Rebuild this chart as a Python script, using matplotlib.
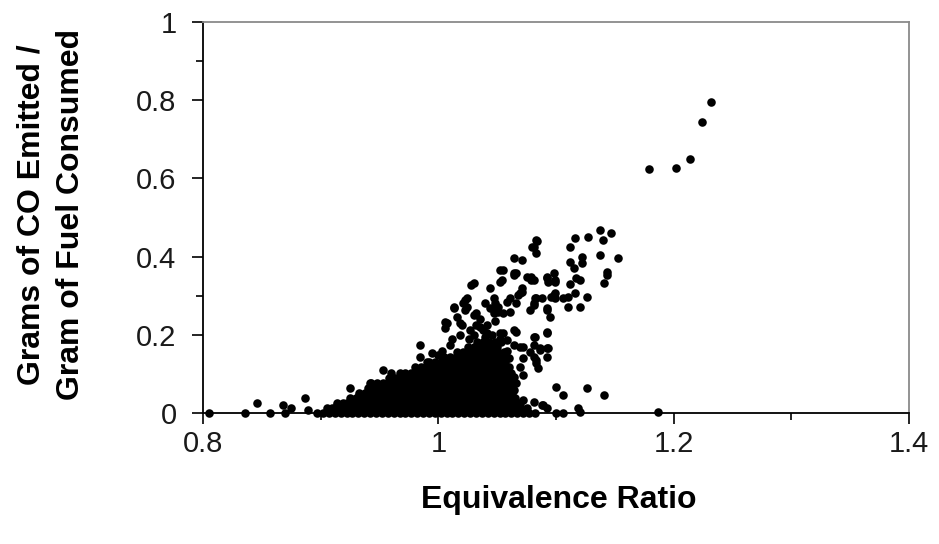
import matplotlib
matplotlib.use("Agg")
import matplotlib.pyplot as plt
from matplotlib.ticker import FixedLocator

plt.rcParams['font.family'] = ['Liberation Sans', 'DejaVu Sans']

# Sparse lean-side measurements
lean_phi = [0.805, 0.836, 0.846, 0.857, 0.868, 0.870, 0.875, 0.887, 0.889,
            0.925, 0.933, 0.942, 0.943, 0.953, 0.960, 0.914, 0.922]
lean_co = [0.000, 0.000, 0.026, 0.000, 0.021, 0.000, 0.013, 0.038, 0.008,
           0.064, 0.047, 0.077, 0.077, 0.111, 0.102, 0.021, 0.026]

# Densely packed near-stoichiometric measurements, one list per CO level
core_co = [0.000, 0.013, 0.026, 0.039, 0.052, 0.065, 0.078, 0.091,
           0.104, 0.117, 0.130, 0.143, 0.156, 0.169, 0.182]
core_phi_a = [0.897, 0.902, 0.907, 0.912, 0.917, 0.922, 0.927, 0.932, 0.937, 0.942,
              0.947, 0.952, 0.957, 0.962, 0.967, 0.972, 0.977, 0.982, 0.987, 0.992,
              0.997, 1.002, 1.007, 1.012, 1.017, 1.022, 1.027, 1.032, 1.037, 1.042,
              1.047, 1.052, 1.057, 1.062, 1.067, 1.072, 1.077, 1.082]
core_phi_b = [0.905, 0.910, 0.915, 0.920, 0.925, 0.930, 0.935, 0.940, 0.945, 0.950,
              0.955, 0.960, 0.965, 0.970, 0.975, 0.980, 0.985, 0.990, 0.995, 1.000,
              1.005, 1.010, 1.015, 1.020, 1.025, 1.030, 1.035, 1.040, 1.045, 1.050,
              1.055, 1.060, 1.065, 1.070, 1.075]
core_phi_c = [0.914, 0.919, 0.924, 0.929, 0.934, 0.939, 0.944, 0.949, 0.954, 0.959,
              0.964, 0.969, 0.974, 0.979, 0.984, 0.989, 0.994, 0.999, 1.004, 1.009,
              1.014, 1.019, 1.024, 1.029, 1.034, 1.039, 1.044, 1.049, 1.054, 1.059,
              1.064, 1.069]
core_phi_d = [0.925, 0.930, 0.935, 0.940, 0.945, 0.950, 0.955, 0.960, 0.965, 0.970,
              0.975, 0.980, 0.985, 0.990, 0.995, 1.000, 1.005, 1.010, 1.015, 1.020,
              1.025, 1.030, 1.035, 1.040, 1.045, 1.050, 1.055, 1.060, 1.065]
core_phi_e = [0.933, 0.938, 0.943, 0.948, 0.953, 0.958, 0.963, 0.968, 0.973, 0.978,
              0.983, 0.988, 0.993, 0.998, 1.003, 1.008, 1.013, 1.018, 1.023, 1.028,
              1.033, 1.038, 1.043, 1.048, 1.053, 1.058, 1.063]
core_phi_f = [0.940, 0.945, 0.950, 0.955, 0.960, 0.965, 0.970, 0.975, 0.980, 0.985,
              0.990, 0.995, 1.000, 1.005, 1.010, 1.015, 1.020, 1.025, 1.030, 1.035,
              1.040, 1.045, 1.050, 1.055, 1.060]
core_phi_g = [0.948, 0.953, 0.958, 0.963, 0.968, 0.973, 0.978, 0.983, 0.988, 0.993,
              0.998, 1.003, 1.008, 1.013, 1.018, 1.023, 1.028, 1.033, 1.038, 1.043,
              1.048, 1.053, 1.058, 1.063]
core_phi_h = [0.958, 0.963, 0.968, 0.973, 0.978, 0.983, 0.988, 0.993, 0.998, 1.003,
              1.008, 1.013, 1.018, 1.023, 1.028, 1.033, 1.038, 1.043, 1.048, 1.053,
              1.058]
core_phi_i = [0.967, 0.972, 0.977, 0.982, 0.987, 0.992, 0.997, 1.002, 1.007, 1.012,
              1.017, 1.022, 1.027, 1.032, 1.037, 1.042, 1.047, 1.052, 1.057, 1.062]
core_phi_j = [0.980, 0.985, 0.990, 0.995, 1.000, 1.005, 1.010, 1.015, 1.020, 1.025,
              1.030, 1.035, 1.040, 1.045, 1.050, 1.055, 1.060]
core_phi_k = [0.992, 0.997, 1.002, 1.007, 1.012, 1.017, 1.022, 1.027, 1.032, 1.037,
              1.042, 1.047, 1.052, 1.057]
core_phi_l = [1.005, 1.010, 1.015, 1.020, 1.025, 1.030, 1.035, 1.040, 1.045, 1.050,
              1.055]
core_phi_m = [1.016, 1.021, 1.026, 1.031, 1.036, 1.041, 1.046, 1.051, 1.056]
core_phi_n = [1.025, 1.030, 1.035, 1.040, 1.045, 1.050]
core_phi_o = [1.033, 1.038, 1.043, 1.048, 1.053]

# Scattered rich-side measurements
spread_phi = [0.984, 0.984, 0.990, 1.000, 1.006, 1.007, 1.006, 1.020, 1.018, 1.027,
              1.032, 1.035, 1.041, 1.041, 1.038, 1.040, 1.041,
              1.013, 1.024, 1.032, 1.013, 1.023, 1.023, 1.030, 1.021, 1.024,
              1.028, 1.030, 1.044, 1.040, 1.044, 1.047, 1.047, 1.047, 1.048, 1.051,
              1.051, 1.055, 1.061,
              1.052, 1.052, 1.054, 1.055, 1.064, 1.066, 1.064, 1.064, 1.071, 1.075,
              1.079, 1.079, 1.081,
              1.083, 1.084, 1.081, 1.080, 1.083,
              1.058, 1.061, 1.068, 1.069, 1.071, 1.071, 1.066,
              1.078, 1.081, 1.081, 1.083, 1.082, 1.088, 1.092, 1.092, 1.095,
              1.092, 1.092, 1.093, 1.098, 1.099, 1.099, 1.096, 1.098, 1.099, 1.099,
              1.106, 1.110, 1.116, 1.110, 1.120, 1.126,
              1.112, 1.120, 1.117, 1.115, 1.112, 1.122, 1.122, 1.112, 1.116, 1.127,
              1.137, 1.147, 1.140, 1.137, 1.153, 1.143, 1.143, 1.141,
              1.052, 1.055, 1.058, 1.064, 1.066, 1.064, 1.069, 1.072, 1.078, 1.081,
              1.081, 1.082, 1.092, 1.092, 1.086, 1.086, 1.092, 1.093, 1.092, 1.083,
              1.081, 1.083, 1.085, 1.072, 1.069, 1.072, 1.064, 1.066, 1.064,
              1.100, 1.106, 1.126, 1.141, 1.072, 1.081, 1.088, 1.089, 1.092, 1.100,
              1.106, 1.119, 1.120, 1.187,
              1.003, 1.010, 1.012, 1.018, 1.026, 1.030, 1.046, 1.052, 1.058, 1.060,
              0.995, 1.016, 1.035, 1.048]
spread_co = [0.174, 0.145, 0.132, 0.149, 0.217, 0.230, 0.234, 0.225, 0.230, 0.213,
             0.225, 0.221, 0.225, 0.204, 0.213, 0.196, 0.183,
             0.272, 0.272, 0.255, 0.268, 0.264, 0.289, 0.251, 0.281, 0.294,
             0.328, 0.332, 0.319, 0.281, 0.268, 0.255, 0.264, 0.294, 0.281, 0.259,
             0.272, 0.255, 0.259,
             0.366, 0.336, 0.340, 0.366, 0.358, 0.358, 0.353, 0.396, 0.391, 0.349,
             0.340, 0.349, 0.340,
             0.443, 0.441, 0.425, 0.425, 0.409,
             0.285, 0.294, 0.302, 0.306, 0.311, 0.319, 0.281,
             0.264, 0.277, 0.281, 0.294, 0.294, 0.294, 0.264, 0.268, 0.247,
             0.345, 0.349, 0.336, 0.358, 0.336, 0.340, 0.298, 0.302, 0.306, 0.294,
             0.294, 0.298, 0.306, 0.272, 0.272, 0.298,
             0.330, 0.340, 0.345, 0.370, 0.387, 0.383, 0.400, 0.425, 0.447, 0.451,
             0.468, 0.460, 0.443, 0.404, 0.396, 0.362, 0.353, 0.334,
             0.204, 0.204, 0.187, 0.213, 0.208, 0.174, 0.170, 0.170, 0.157, 0.174,
             0.196, 0.196, 0.204, 0.208, 0.162, 0.166, 0.166, 0.166, 0.145, 0.136,
             0.145, 0.128, 0.115, 0.140, 0.119, 0.098, 0.093, 0.077, 0.060,
             0.068, 0.047, 0.064, 0.047, 0.034, 0.030, 0.021, 0.021, 0.013, 0.000,
             0.000, 0.013, 0.004, 0.004,
             0.160, 0.175, 0.190, 0.200, 0.190, 0.200, 0.200, 0.190, 0.160, 0.140,
             0.155, 0.245, 0.240, 0.235]

# Very rich operating points
tail_phi = [1.179, 1.202, 1.214, 1.224, 1.232]
tail_co = [0.623, 0.627, 0.649, 0.743, 0.795]

x_ticks = [0.8, 1.0, 1.2, 1.4]
x_tick_labels = ['0.8', '1', '1.2', '1.4']
y_ticks = [0.0, 0.2, 0.4, 0.6, 0.8, 1.0]
y_tick_labels = ['0', '0.2', '0.4', '0.6', '0.8', '1']

core_rows = [core_phi_a, core_phi_b, core_phi_c, core_phi_d, core_phi_e,
             core_phi_f, core_phi_g, core_phi_h, core_phi_i, core_phi_j,
             core_phi_k, core_phi_l, core_phi_m, core_phi_n, core_phi_o]

phi_all = list(lean_phi) + list(spread_phi) + list(tail_phi)
co_all = list(lean_co) + list(spread_co) + list(tail_co)
for level, row in zip(core_co, core_rows):
    phi_all += row
    co_all += [level] * len(row)

W, H = 939, 544
fig = plt.figure(figsize=(W / 100, H / 100), dpi=100)
fig.patch.set_facecolor('white')
x0, x1, ytop, ybot = 203, 909, 21.7, 413.3
ax = fig.add_axes([x0 / W, 1 - ybot / H, (x1 - x0) / W, (ybot - ytop) / H])

ax.scatter(phi_all, co_all, s=38, c='black', marker='o', linewidths=0,
           clip_on=False, zorder=3)

ax.set_xlim(0.8, 1.4)
ax.set_ylim(0, 1)

for side in ('left', 'bottom'):
    ax.spines[side].set_color('black')
    ax.spines[side].set_linewidth(1.3)
for side in ('top', 'right'):
    ax.spines[side].set_color('#8a8a8a')
    ax.spines[side].set_linewidth(1.3)

ax.set_xticks(x_ticks)
ax.set_xticklabels(x_tick_labels)
ax.xaxis.set_minor_locator(FixedLocator([0.9, 1.1, 1.3]))
ax.set_yticks(y_ticks)
ax.set_yticklabels(y_tick_labels)
ax.yaxis.set_minor_locator(FixedLocator([0.3, 0.9]))

ax.tick_params(axis='both', which='major', direction='out', length=8,
               width=1.2, color='black', labelsize=21, labelcolor='#1a1a1a')
ax.tick_params(axis='both', which='minor', direction='out', length=5,
               width=1.2, color='black')
ax.tick_params(axis='y', which='major', pad=11)
ax.tick_params(axis='x', which='major', pad=4)

fig.text(559 / W, 1 - 500 / H, 'Equivalence Ratio', ha='center', va='center',
         fontsize=23, fontweight='bold', color='black')
fig.text(51 / W, 1 - 215 / H, 'Grams of CO Emitted /\nGram of Fuel Consumed',
         ha='center', va='center', rotation=90, fontsize=23,
         fontweight='bold', color='black', linespacing=1.4,
         multialignment='center')

fig.savefig('out.png', dpi=100, facecolor='white')
